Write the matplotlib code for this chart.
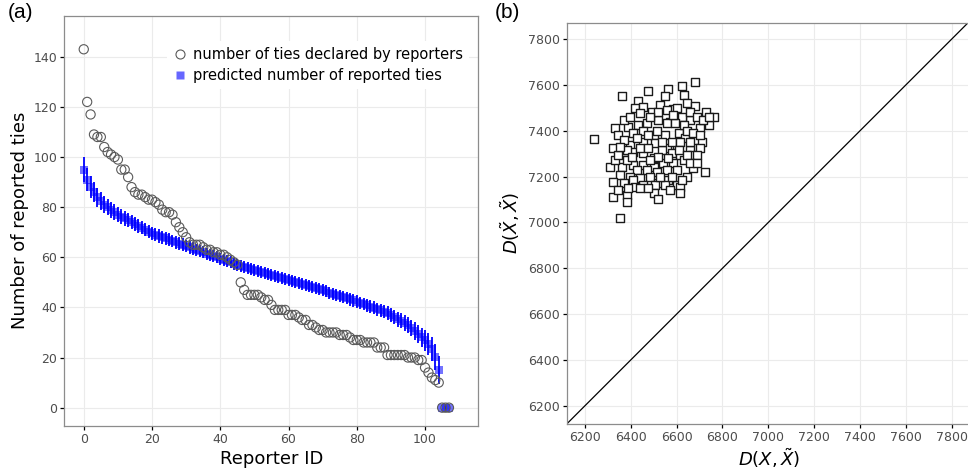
import numpy as np
import matplotlib
matplotlib.use("Agg")
import matplotlib.pyplot as plt
from matplotlib.lines import Line2D

# ---------------- data: panel (a) ----------------
declared = [143, 122, 117, 109, 108, 108, 104, 102, 101, 100,
            99, 95, 95, 92, 88, 86, 85, 85, 84, 83,
            83, 82, 81, 79, 78, 78, 77, 74, 72, 70,
            68, 66, 65, 65, 65, 64, 63, 63, 62, 62,
            61, 61, 60, 59, 58, 57, 50, 47, 45, 45,
            45, 45, 44, 43, 43, 41, 39, 39, 39, 39,
            37, 37, 37, 36, 35, 35, 33, 33, 32, 31,
            31, 30, 30, 30, 30, 29, 29, 29, 28, 27,
            27, 27, 26, 26, 26, 26, 24, 24, 24, 21,
            21, 21, 21, 21, 21, 20, 20, 20, 19, 19,
            16, 14, 12, 11, 10,
            0, 0, 0]

predicted = [95, 91, 88, 86, 84, 82.5, 81, 80, 79, 78,
             77, 76.2, 75.5, 74.8, 74, 73.2, 72.5, 71.8, 71, 70.2,
             69.5, 69, 68.5, 68, 67.5, 67, 66.5, 66, 65.5, 65,
             64.5, 64, 63.5, 63, 62.5, 62, 61.5, 61, 60.5, 60,
             59.5, 59, 58.5, 58, 57.5, 57, 56.5, 56, 55.6, 55.2,
             54.8, 54.4, 54, 53.6, 53.2, 52.8, 52.4, 52, 51.6, 51.2,
             50.8, 50.4, 50, 49.6, 49.2, 48.8, 48.4, 48, 47.6, 47.2,
             46.8, 46.4, 45.9, 45.5, 45, 44.6, 44.1, 43.7, 43.2, 42.8,
             42.3, 41.8, 41.3, 40.8, 40.3, 39.8, 39.3, 38.8, 38.3, 37.6,
             36.8, 36.1, 35.3, 34.6, 33.8, 32.8, 31.8, 30.6, 29.3, 28.1,
             26.8, 25.3, 23.3, 20.3, 15,
             0, 0, 0]

pred_err = [5, 4.6, 4.3, 4, 3.8, 3.6, 3.4, 3.3, 3.2, 3.1,
            3, 3, 2.9, 2.9, 2.8, 2.8, 2.8, 2.7, 2.7, 2.7,
            2.6, 2.6, 2.6, 2.6, 2.6, 2.5, 2.5, 2.5, 2.5, 2.5,
            2.5, 2.5, 2.5, 2.5, 2.5, 2.4, 2.4, 2.4, 2.4, 2.4,
            2.4, 2.4, 2.4, 2.4, 2.4, 2.4, 2.4, 2.4, 2.4, 2.4,
            2.4, 2.4, 2.4, 2.4, 2.4, 2.4, 2.4, 2.4, 2.4, 2.4,
            2.4, 2.4, 2.4, 2.4, 2.4, 2.4, 2.4, 2.4, 2.4, 2.4,
            2.4, 2.4, 2.4, 2.4, 2.4, 2.4, 2.4, 2.4, 2.5, 2.5,
            2.5, 2.5, 2.5, 2.5, 2.6, 2.6, 2.6, 2.7, 2.7, 2.8,
            2.8, 2.9, 3, 3, 3.1, 3.2, 3.3, 3.5, 3.6, 3.8,
            4, 4.3, 4.7, 5.2, 5.6,
            0, 0, 0]

reporter_id = np.arange(len(declared))

# ---------------- data: panel (b) ----------------
dist_x = [6363, 6477, 6564, 6625, 6678, 6550, 6630, 6433, 6419, 6455,
          6528, 6586, 6644, 6681, 6727, 6761, 6739, 6702, 6659, 6622,
          6571, 6520, 6470, 6433, 6389, 6331, 6346, 6411, 6455, 6499,
          6550, 6608, 6637, 6688, 6710, 6659, 6601, 6557, 6506, 6455,
          6397, 6368, 6324, 6368, 6411, 6455, 6499, 6535, 6579, 6615,
          6666, 6702, 6630, 6586, 6542, 6499, 6455, 6411, 6360, 6309,
          6331, 6382, 6426, 6470, 6513, 6557, 6601, 6644, 6724, 6673,
          6397, 6440, 6484, 6520, 6564, 6601, 6353, 6324, 6368, 6411,
          6455, 6506, 6615, 6550, 6419, 6382, 6499, 6615, 6520, 6320,
          6382, 6353, 6239,
          6440, 6491, 6520, 6557, 6601, 6659, 6688, 6717, 6739, 6557,
          6593, 6630, 6644, 6673, 6477, 6513, 6535, 6579, 6615, 6659,
          6702, 6426, 6382, 6346, 6440, 6477, 6520, 6564, 6608, 6644,
          6688, 6368, 6397, 6484, 6586, 6353, 6404, 6484, 6528, 6579,
          6622, 6440, 6477, 6571, 6346, 6389, 6659, 6688]
dist_y = [7552, 7574, 7583, 7596, 7614, 7550, 7557, 7528, 7499, 7503,
          7513, 7496, 7523, 7509, 7484, 7459, 7426, 7411, 7448, 7462,
          7440, 7448, 7433, 7426, 7418, 7414, 7382, 7389, 7397, 7382,
          7382, 7389, 7368, 7360, 7353, 7317, 7338, 7324, 7346, 7353,
          7338, 7360, 7324, 7309, 7309, 7302, 7280, 7317, 7302, 7295,
          7295, 7324, 7273, 7258, 7258, 7244, 7251, 7251, 7244, 7241,
          7273, 7273, 7229, 7229, 7222, 7229, 7229, 7200, 7222, 7236,
          7200, 7193, 7200, 7171, 7186, 7164, 7207, 7178, 7171, 7186,
          7164, 7164, 7156, 7164, 7156, 7120, 7127, 7127, 7101, 7113,
          7091, 7021, 7365,
          7477, 7484, 7484, 7491, 7499, 7484, 7462, 7448, 7462, 7433,
          7433, 7426, 7397, 7389, 7382, 7397, 7353, 7353, 7353, 7353,
          7382, 7367, 7317, 7295, 7324, 7324, 7287, 7280, 7317, 7295,
          7295, 7448, 7462, 7462, 7469, 7331, 7287, 7273, 7200, 7200,
          7186, 7149, 7149, 7142, 7142, 7149, 7258, 7258]

# ---------------- style ----------------
W, H = 968, 470
fig = plt.figure(figsize=(W / 100, H / 100), dpi=100)

GRID = "#EBEBEB"
SPINE = "#8C8C8C"
TICKLAB = "#4D4D4D"


def style(ax):
    ax.set_facecolor("white")
    ax.grid(True, color=GRID, lw=0.8, zorder=0)
    ax.set_axisbelow(True)
    for s in ax.spines.values():
        s.set_color(SPINE)
        s.set_linewidth(0.9)
    ax.tick_params(direction="out", length=3, width=0.9, color="black",
                   labelcolor=TICKLAB, labelsize=9, pad=2)


# ---------------- panel (a) ----------------
axa = fig.add_axes([64.3 / W, 44.3 / H, 414 / W, 410 / H])
style(axa)
pred = np.array(predicted)
err = np.array(pred_err)
axa.vlines(reporter_id, pred - err, pred + err, color="#0000FF", lw=1.3, zorder=2)
axa.scatter(reporter_id, pred, marker="s", s=34, color="#0000FF", alpha=0.55,
            linewidths=0, zorder=3)
axa.scatter(reporter_id, declared, marker="o", s=44, facecolors="none",
            edgecolors="#5A5A5A", linewidths=0.8, zorder=4)
axa.set_xlim(-5.7, 115.6)
axa.set_ylim(-7.2, 156.4)
axa.set_xticks(np.arange(0, 101, 20))
axa.set_yticks(np.arange(0, 141, 20))
axa.set_xlabel("Reporter ID", fontsize=13, labelpad=3)
axa.set_ylabel("Number of reported ties", fontsize=13, labelpad=3)

handles = [Line2D([], [], ls="none", marker="o", ms=6.5, mfc="none", mec="#5A5A5A", mew=0.8),
           Line2D([], [], ls="none", marker="s", ms=6, mfc="#6666FF", mec="none")]
leg = axa.legend(handles, ["number of ties declared by reporters",
                           "predicted number of reported ties"],
                 loc="upper left", bbox_to_anchor=(167 / W, 1 - 41 / H),
                 bbox_transform=fig.transFigure, borderaxespad=0,
                 fontsize=10.5, handlelength=1.0, handletextpad=0.4,
                 labelspacing=0.45, borderpad=0.4, frameon=True, fancybox=False)
leg.get_frame().set_facecolor("white")
leg.get_frame().set_edgecolor("none")
leg.get_frame().set_alpha(1)

# ---------------- panel (b) ----------------
axb = fig.add_axes([566.7 / W, 46 / H, 405.3 / W, 401.3 / H])
style(axb)
axb.spines["right"].set_visible(False)
axb.axline((6200, 6200), slope=1, color="black", lw=0.9, zorder=2)
axb.scatter(dist_x, dist_y, marker="s", s=38, facecolors="white",
            edgecolors="#1A1A1A", linewidths=1.0, zorder=3)
axb.set_xlim(6120, 7889)
axb.set_ylim(6120, 7872)
axb.set_xticks(np.arange(6200, 7801, 200))
axb.set_yticks(np.arange(6200, 7801, 200))
axb.set_xlabel(r"$D(X,\tilde{X})$", fontsize=13, labelpad=2)
axb.set_ylabel(r"$D(\tilde{X},\tilde{X})$", fontsize=13, labelpad=4)

fig.text(8 / W, 1 - 3 / H, "(a)", fontsize=15, family="Liberation Sans", va="top", ha="left")
fig.text(495 / W, 1 - 3 / H, "(b)", fontsize=15, family="Liberation Sans", va="top", ha="left")

fig.savefig("out.png", dpi=100)
